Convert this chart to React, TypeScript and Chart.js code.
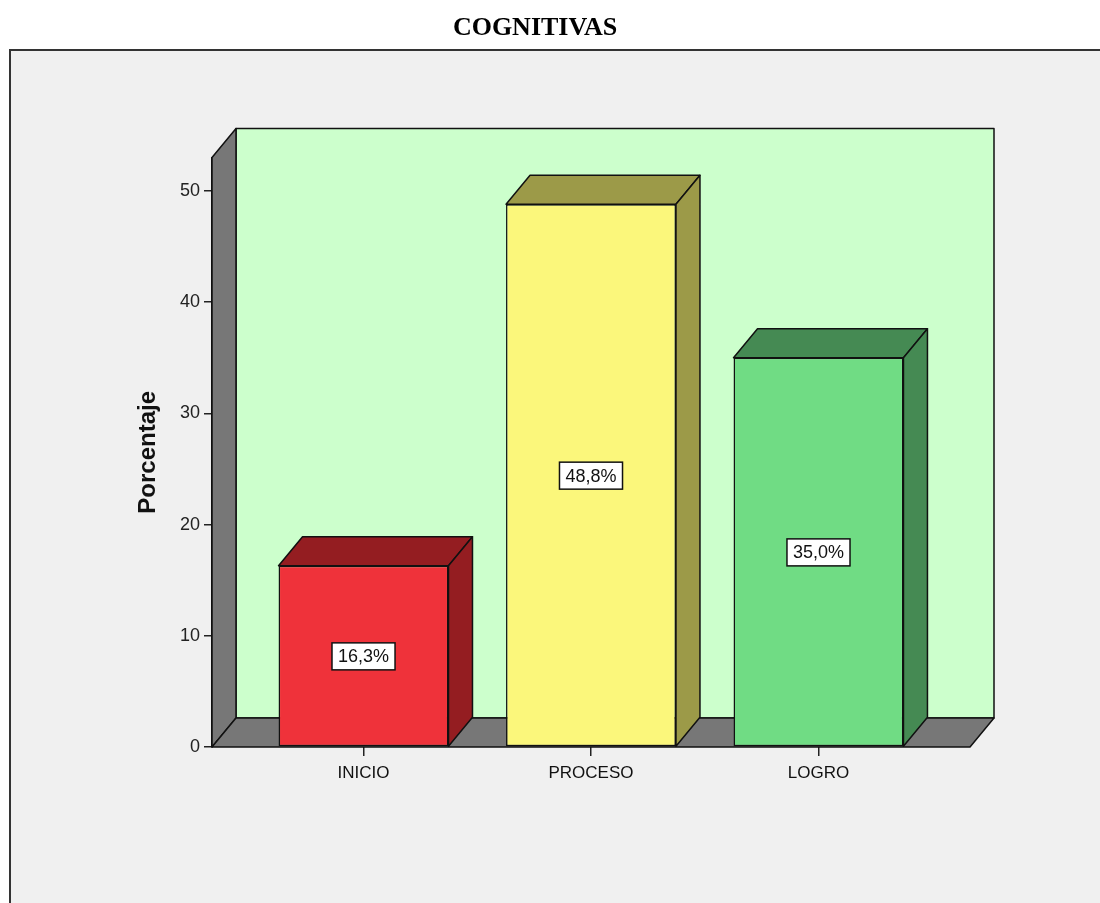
import React, { useEffect, useRef } from 'react';
import { Chart, registerables } from 'chart.js';

Chart.register(...registerables);

const chartTitle = 'COGNITIVAS';
const yAxisTitle = 'Porcentaje';
const categories = ['INICIO', 'PROCESO', 'LOGRO'];
const percentages = [16.3, 48.8, 35.0];
const yTicks = [0, 10, 20, 30, 40, 50];
const frontColors = ['#EF323A', '#FBF77B', '#70DC84'];
const depthColors = ['#941D21', '#9C9A48', '#458A53'];

const SANS = "'Liberation Sans', Arial, sans-serif";
const SERIF = "'Liberation Serif', 'Times New Roman', serif";
const DX = 24;
const DY = -29;

type Pt = [number, number];

function poly(ctx: CanvasRenderingContext2D, pts: Pt[], fill: string) {
  ctx.beginPath();
  ctx.moveTo(pts[0][0], pts[0][1]);
  for (let i = 1; i < pts.length; i++) ctx.lineTo(pts[i][0], pts[i][1]);
  ctx.closePath();
  ctx.fillStyle = fill;
  ctx.fill();
  ctx.lineWidth = 1.5;
  ctx.strokeStyle = '#111';
  ctx.lineJoin = 'round';
  ctx.stroke();
}

const threeDPlugin = {
  id: 'threeD',
  beforeDraw(chart: any) {
    const ctx: CanvasRenderingContext2D = chart.ctx;
    ctx.save();
    ctx.fillStyle = '#ffffff';
    ctx.fillRect(0, 0, chart.width, chart.height);
    ctx.fillStyle = '#F0F0F0';
    ctx.fillRect(10, 50, chart.width, chart.height);
    ctx.strokeStyle = '#333';
    ctx.lineWidth = 2;
    ctx.strokeRect(10, 50, chart.width + 20, chart.height + 20);
    ctx.restore();
  },
  beforeDatasetsDraw(chart: any) {
    const ctx: CanvasRenderingContext2D = chart.ctx;
    const { left, right, top, bottom } = chart.chartArea;
    ctx.save();
    // back wall
    poly(ctx, [[left + DX, top + DY], [right + DX, top + DY], [right + DX, bottom + DY], [left + DX, bottom + DY]], '#CCFFCC');
    // left wall
    poly(ctx, [[left, bottom], [left, top], [left + DX, top + DY], [left + DX, bottom + DY]], '#777777');
    // floor
    poly(ctx, [[left, bottom], [left + DX, bottom + DY], [right + DX, bottom + DY], [right, bottom]], '#777777');
    // bar depth faces
    const meta = chart.getDatasetMeta(0);
    meta.data.forEach((bar: any, i: number) => {
      const { x, y, base, width } = bar.getProps(['x', 'y', 'base', 'width'], true);
      const l = x - width / 2;
      const r = x + width / 2;
      poly(ctx, [[l, y], [l + DX, y + DY], [r + DX, y + DY], [r, y]], depthColors[i]);
      poly(ctx, [[r, y], [r + DX, y + DY], [r + DX, base + DY], [r, base]], depthColors[i]);
    });
    ctx.restore();
  },
  afterDatasetsDraw(chart: any) {
    const ctx: CanvasRenderingContext2D = chart.ctx;
    const yScale = chart.scales.y;
    const meta = chart.getDatasetMeta(0);
    ctx.save();
    ctx.font = `18px ${SANS}`;
    ctx.textAlign = 'center';
    ctx.textBaseline = 'middle';
    meta.data.forEach((bar: any, i: number) => {
      const v = percentages[i];
      const text = v.toFixed(1).replace('.', ',') + '%';
      const cx = bar.x;
      const cy = yScale.getPixelForValue(v / 2);
      const w = ctx.measureText(text).width + 12;
      const h = 27;
      ctx.fillStyle = '#ffffff';
      ctx.fillRect(cx - w / 2, cy - h / 2, w, h);
      ctx.strokeStyle = '#111';
      ctx.lineWidth = 1.5;
      ctx.strokeRect(cx - w / 2, cy - h / 2, w, h);
      ctx.fillStyle = '#111';
      ctx.fillText(text, cx, cy + 1);
    });
    ctx.restore();
  },
};

export default function App() {
  const canvasRef = useRef<HTMLCanvasElement | null>(null);

  useEffect(() => {
    if (!canvasRef.current) return;
    const chart = new Chart(canvasRef.current, {
      type: 'bar',
      data: {
        datasets: [
          {
            data: percentages.map((v, i) => ({ x: i, y: v })),
            backgroundColor: frontColors,
            borderColor: '#111',
            borderWidth: 1.5,
            borderSkipped: false,
            categoryPercentage: 1,
            barPercentage: 0.747,
          } as any,
        ],
      },
      options: {
        animation: false,
        responsive: false,
        maintainAspectRatio: false,
        layout: { padding: { left: 100, right: 130, top: 0, bottom: 96 } },
        plugins: {
          legend: { display: false },
          tooltip: { enabled: false },
          title: {
            display: true,
            text: chartTitle,
            color: '#000',
            font: { family: SERIF, size: 26, weight: 'bold', lineHeight: 1.2 },
            padding: { top: 12.4, bottom: 114 },
          },
        },
        scales: {
          x: {
            type: 'linear',
            min: -0.666,
            max: 2.666,
            offset: false,
            afterBuildTicks: (s: any) => {
              s.ticks = categories.map((_, i) => ({ value: i }));
            },
            afterFit: (s: any) => {
              s.height = 60;
            },
            ticks: {
              callback: (v: any) => categories[v as number] ?? '',
              color: '#111',
              font: { family: SANS, size: 17 },
              padding: 7,
              maxRotation: 0,
              autoSkip: false,
            },
            grid: { display: true, offset: false, drawOnChartArea: false, drawTicks: true, tickLength: 9, color: '#222', lineWidth: 1.5 },
            border: { display: false },
          },
          y: {
            type: 'linear',
            min: 0,
            max: 53,
            afterBuildTicks: (s: any) => {
              s.ticks = yTicks.map((v) => ({ value: v }));
            },
            afterFit: (s: any) => {
              s.width = 112;
            },
            ticks: {
              color: '#222',
              font: { family: SANS, size: 18 },
              padding: 4,
            },
            grid: { display: true, drawOnChartArea: false, drawTicks: true, tickLength: 8, color: '#222', lineWidth: 1.5 },
            border: { display: true, color: '#111', width: 1.5 },
            title: {
              display: true,
              text: yAxisTitle,
              color: '#111',
              font: { family: SANS, size: 24, weight: 'bold', lineHeight: 1.2 },
              padding: { top: 34, bottom: 0 },
            },
          },
        },
      },
      plugins: [threeDPlugin],
    });
    return () => chart.destroy();
  }, []);

  return (
    <div style={{ position: 'fixed', left: 0, top: 0, width: 1100, height: 903 }}>
      <canvas ref={canvasRef} width={1100} height={903} style={{ width: 1100, height: 903, display: 'block' }} />
    </div>
  );
}
